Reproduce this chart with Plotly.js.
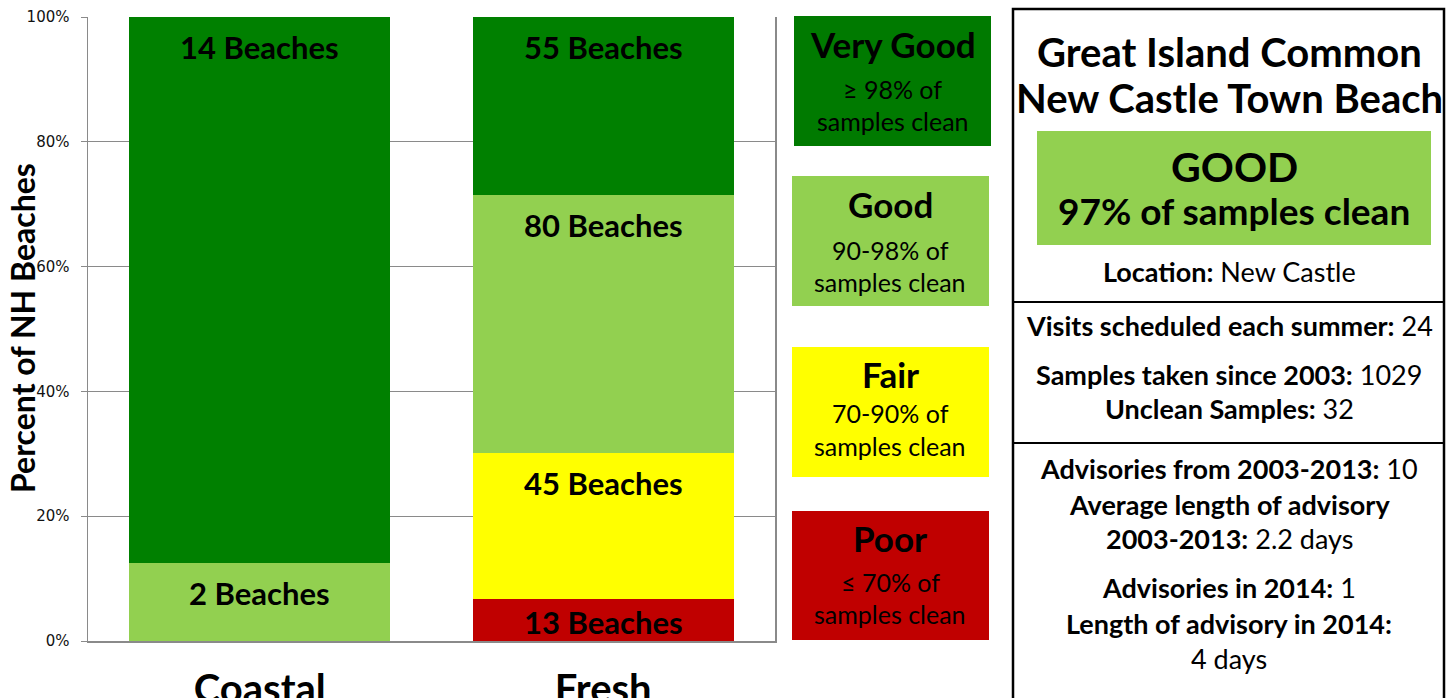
<!DOCTYPE html>
<html>
<head>
<meta charset="utf-8">
<script src="https://cdn.plot.ly/plotly-3.0.1.min.js"></script>
<style>html,body{margin:0;padding:0;background:#fff}#chart{width:1455px;height:698px}</style>
</head>
<body>
<div id="chart"></div>
<script>
// ---- data ----
const categories = ["Coastal", "Fresh"];
const ratingNames = ["Poor", "Fair", "Good", "Very Good"];
const poorCounts = [0, 13];
const fairCounts = [0, 45];
const goodCounts = [2, 80];
const veryGoodCounts = [14, 55];
const yTickVals = [0, 20, 40, 60, 80, 100];
const yTickText = ["0%", "20%", "40%", "60%", "80%", "100%"];
const legendTitles = ["Very Good", "Good", "Fair", "Poor"];
const legendRanges = ["≥ 98% of", "90-98% of", "70-90% of", "≤ 70% of"];
const beachName = ["Great Island Common", "New Castle Town Beach"];
const beachRating = "GOOD";
const beachPctClean = "97% of samples clean";
const infoLines = [
  ["Location:", "New Castle"],
  ["Visits scheduled each summer:", "24"],
  ["Samples taken since 2003:", "1029"],
  ["Unclean Samples:", "32"],
  ["Advisories from 2003-2013:", "10"],
  ["Average length of advisory", ""],
  ["2003-2013:", "2.2 days"],
  ["Advisories in 2014:", "1"],
  ["Length of advisory in 2014:", ""],
  ["", "4 days"]
];

// ---- styles ----
const colors = {"Poor": "#C00000", "Fair": "#FFFF00", "Good": "#92D050", "Very Good": "#008000"};
const boxColors = ["#007A00", "#92D050", "#FFFF00", "#C00000"];
const FONT = "Lato, 'Open Sans', sans-serif";

const W = 1455, H = 698;
const L = 88, R = 775, T = 17, B = 641;
const X = px => (px - L) / (R - L);
const Y = py => (B - py) / (B - T);

const seriesCounts = [poorCounts, fairCounts, goodCounts, veryGoodCounts];
const traces = ratingNames.map((name, i) => ({
  type: "bar",
  name: name,
  x: categories,
  y: seriesCounts[i],
  marker: {color: colors[name], line: {width: 0}},
  hoverinfo: "x+y+name"
}));

const annotations = [];
const shapes = [];
const txt = (xpx, ypx, text, size) => annotations.push({
  xref: "paper", yref: "paper", x: X(xpx), y: Y(ypx), xanchor: "center", yanchor: "middle",
  text: text, showarrow: false, font: {family: FONT, size: size, color: "#000"}
});

// bar labels
categories.forEach((cat, ci) => {
  const total = seriesCounts.reduce((s, arr) => s + arr[ci], 0);
  let cum = 0;
  seriesCounts.forEach((arr, si) => {
    const v = arr[ci];
    if (v <= 0) return;
    const pct = v / total * 100;
    cum += pct;
    const segPx = pct / 100 * (B - T);
    const shift = -Math.min(30, segPx / 2 + 2);
    annotations.push({
      x: cat, y: cum, xref: "x", yref: "y", xanchor: "center",
      text: "<b>" + v + " Beaches</b>", showarrow: false,
      yanchor: "middle", yshift: shift,
      font: {family: FONT, size: 31, color: "#000"}
    });
  });
});

// y axis title
annotations.push({
  xref: "paper", yref: "paper", x: X(22), y: Y(328), xanchor: "center", yanchor: "middle",
  text: "<b>Percent of NH Beaches</b>", textangle: -90, showarrow: false,
  font: {family: FONT, size: 32, color: "#000"}
});

// legend boxes
const boxes = [
  {x0: 794, x1: 991, y0: 16, y1: 146, ty: [44, 89, 121]},
  {x0: 792, x1: 989, y0: 176, y1: 306, ty: [204, 250, 282]},
  {x0: 792, x1: 989, y0: 347, y1: 477, ty: [374, 413, 446]},
  {x0: 792, x1: 989, y0: 511, y1: 640, ty: [538, 582, 614]}
];
boxes.forEach((b, i) => {
  shapes.push({type: "rect", xref: "paper", yref: "paper",
    x0: X(b.x0), x1: X(b.x1), y0: Y(b.y1), y1: Y(b.y0),
    fillcolor: boxColors[i], line: {width: 0}, layer: "below"});
  const cx = (b.x0 + b.x1) / 2;
  txt(cx, b.ty[0], "<b>" + legendTitles[i] + "</b>", 35);
  txt(cx, b.ty[1], legendRanges[i], 25);
  txt(cx, b.ty[2], "samples clean", 25);
});

// right panel
shapes.push({type: "rect", xref: "paper", yref: "paper",
  x0: X(1013), x1: X(1444), y0: Y(700), y1: Y(9),
  line: {color: "#000", width: 2.5}, fillcolor: "rgba(0,0,0,0)"});
shapes.push({type: "line", xref: "paper", yref: "paper",
  x0: X(1014), x1: X(1444), y0: Y(302), y1: Y(302), line: {color: "#000", width: 2}});
shapes.push({type: "line", xref: "paper", yref: "paper",
  x0: X(1014), x1: X(1444), y0: Y(443), y1: Y(443), line: {color: "#000", width: 2}});
shapes.push({type: "rect", xref: "paper", yref: "paper",
  x0: X(1037), x1: X(1431), y0: Y(245), y1: Y(131),
  fillcolor: "#92D050", line: {width: 0}});

txt(1229, 52, "<b>" + beachName[0] + "</b>", 40);
txt(1229, 98, "<b>" + beachName[1] + "</b>", 40);
txt(1234, 166, "<b>" + beachRating + "</b>", 41);
txt(1234, 210, "<b>" + beachPctClean + "</b>", 37);

const infoY = [271, 325, 374, 408, 468, 504, 538, 587, 623, 659];
infoLines.forEach((ln, i) => {
  let t = "";
  if (ln[0]) t += "<b>" + ln[0] + "</b>";
  if (ln[0] && ln[1]) t += " ";
  if (ln[1]) t += ln[1];
  txt(1229, infoY[i], t, 27);
});

const layout = {
  width: W, height: H,
  margin: {l: L, r: W - R, t: T, b: H - B, pad: 0},
  paper_bgcolor: "#fff", plot_bgcolor: "#fff",
  barmode: "stack", barnorm: "percent", bargap: 0.24,
  showlegend: false,
  xaxis: {
    type: "category", showgrid: false, showline: true, linecolor: "#8a8a8a", linewidth: 1.5,
    ticks: "", tickfont: {family: FONT, size: 40, color: "#000", weight: "bold"},
    ticklabelstandoff: 12, fixedrange: true
  },
  yaxis: {
    range: [0, 100], tickvals: yTickVals, ticktext: yTickText,
    showgrid: true, gridcolor: "#8a8a8a", gridwidth: 1,
    showline: true, linecolor: "#8a8a8a", linewidth: 1.5, mirror: true,
    ticks: "outside", ticklen: 6, tickcolor: "#8a8a8a",
    tickfont: {family: "'DejaVu Sans', Verdana, sans-serif", size: 15, color: "#111"},
    ticklabelstandoff: 8,
    zeroline: false, fixedrange: true
  },
  annotations: annotations,
  shapes: shapes
};

Plotly.newPlot("chart", traces, layout, {displayModeBar: false, staticPlot: true});
</script>
</body>
</html>
